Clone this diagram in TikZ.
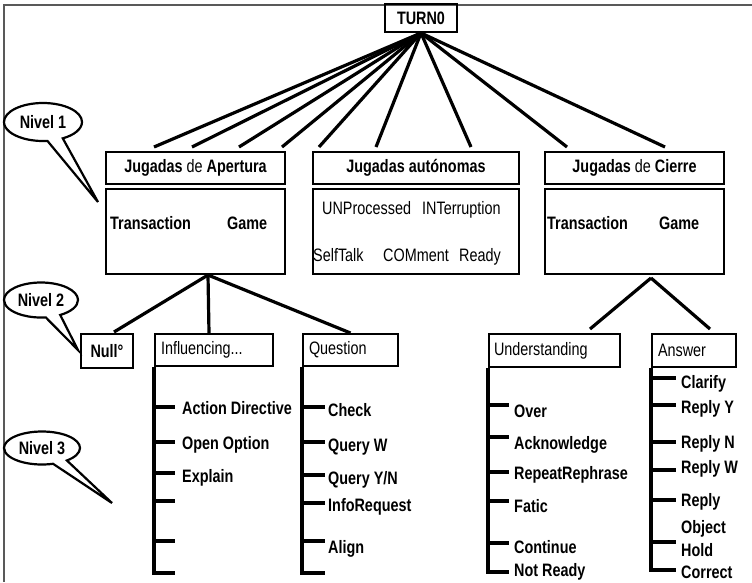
\documentclass[tikz,border=0pt]{standalone}
\usepackage{fontspec}
\setmainfont{Liberation Sans}[FakeStretch=0.8]
\usetikzlibrary{shapes.geometric,shapes.callouts}

\begin{document}
\begin{tikzpicture}[x=1pt, y=-1pt,
		every node/.style={font=\fontsize{18}{20}\selectfont},
		bold/.style={font=\fontsize{18}{20}\selectfont\bfseries},
		box/.style={draw, line width=2pt, inner sep=0pt},
		lvbox/.style={box, anchor=north west, minimum height=32pt, inner xsep=6pt, align=left},
		lab/.style={bold, anchor=west, inner sep=0pt, text height=13pt, text depth=0pt},
		word/.style={anchor=west, inner sep=0pt, text height=13pt, text depth=0pt},
		link/.style={line width=3.2pt},
		tree/.style={line width=3.2pt},
		nivel/.style={ellipse callout, draw, line width=2.2pt, bold, inner sep=0pt, callout pointer arc=24}
	]

		\useasboundingbox (0,0) rectangle (752,582);
		\draw[gray!70!black, line width=1.2pt] (752,5) -- (4,5) -- (4,582);

		\node[box, bold, minimum width=72pt, minimum height=28pt] (turno) at (421,18) {TURN0};

		\node[box, bold, minimum width=179pt, minimum height=32pt] (apH) at (195.5,168) {Jugadas {\mdseries de} Apertura};
		\node[box, minimum width=179pt, minimum height=85pt] (apB) at (195.5,231.5) {};
		\node[box, bold, minimum width=206pt, minimum height=32pt] (auH) at (416,168) {Jugadas autónomas};
		\node[box, minimum width=206pt, minimum height=85pt] (auB) at (416,231.5) {};
		\node[box, bold, minimum width=179pt, minimum height=32pt] (ciH) at (634.5,168) {Jugadas {\mdseries de} Cierre};
		\node[box, minimum width=179pt, minimum height=85pt] (ciB) at (634.5,231.5) {};

		\node[lab] (apTr) at (110,223) {Transaction};
		\node[lab] (apGa) at (227,223) {Game};
		\node[lab] (ciTr) at (547,223) {Transaction};
		\node[lab] (ciGa) at (659,223) {Game};
		\node[word] (unp) at (322,208) {UNProcessed};
		\node[word] (intr) at (422,208) {INTerruption};
		\node[word] (self) at (313,255) {SelfTalk};
		\node[word] (comm) at (383,255) {COMment};
		\node[word] (ready) at (459,255) {Ready};

		\foreach \dx in {49,87,134,177}
			\draw[link] (turno.south) -- ([xshift=\dx pt, yshift=4pt]apH.north west);
		\foreach \dx in {7,64,159}
			\draw[link] (turno.south) -- ([xshift=\dx pt, yshift=4pt]auH.north west);
		\foreach \dx in {23,121}
			\draw[link] (turno.south) -- ([xshift=\dx pt, yshift=4pt]ciH.north west);

		% nivel 2
		\node[lvbox, bold, text width=40pt, align=center, minimum height=34pt] (null) at (80,333) {Null°};
		\node[lvbox, text width=106pt] (infl) at (154,333) {Influencing...};
		\node[lvbox, text width=83pt] (ques) at (302,333) {Question};
		\node[lvbox, text width=121pt, inner xsep=5pt, minimum height=33pt] (und) at (488,333) {Understanding};
		\node[lvbox, text width=72pt, minimum height=33pt] (ans) at (651,333) {Answer};

		\coordinate (apx) at ([xshift=12.5pt]apB.south);
		\draw[link] (apx) -- ([xshift=7pt, yshift=1pt]null.north);
		\draw[link] (apx) -- ([xshift=-5pt]infl.north);
		\draw[link] (apx) -- (ques.north);
		\coordinate (cix) at ([xshift=16.5pt, yshift=-3pt]ciB.south);
		\draw[link] (cix) -- ([xshift=35.5pt, yshift=4pt]und.north);
		\draw[link] (cix) -- ([xshift=16pt, yshift=4pt]ans.north);

		% nivel 3
		\draw[tree] (infl.south west) |- (175,573);
		\foreach \y in {407,442,473,501,541}
			\draw[tree] (infl.south west |- 0,\y) -- ++(21,0);
		\draw[tree] (ques.south west) |- (325,573);
		\foreach \y in {407,442,475,503,541}
			\draw[tree] (ques.south west |- 0,\y) -- ++(23,0);
		\draw[tree] (und.south west) |- (509,572);
		\foreach \y in {405,437,472,501,543}
			\draw[tree] (und.south west |- 0,\y) -- ++(21,0);
		\draw[tree] (ans.south west) |- (676,570);
		\foreach \y in {378,405,442,470,500,542}
			\draw[tree] (ans.south west |- 0,\y) -- ++(25,0);

		\node[lab] (actdir) at (182,408) {Action Directive};
		\node[lab] (openopt) at (182,443) {Open Option};
		\node[lab] (explain) at (182,476) {Explain};

		\node[lab] (check) at (328,410) {Check};
		\node[lab] (queryw) at (328,445) {Query W};
		\node[lab] (queryyn) at (328,478) {Query Y/N};
		\node[lab] (inforeq) at (328,505) {InfoRequest};
		\node[lab] (align) at (328,547) {Align};

		\node[lab] (over) at (514,411) {Over};
		\node[lab] (ackn) at (514,443) {Acknowledge};
		\node[lab] (repeat) at (514,473) {RepeatRephrase};
		\node[lab] (fatic) at (514,506) {Fatic};
		\node[lab] (cont) at (514,547) {Continue};
		\node[lab] (notready) at (514,570) {Not Ready};

		\node[lab] (clarify) at (681,382) {Clarify};
		\node[lab] (replyy) at (681,407) {Reply Y};
		\node[lab] (replyn) at (681,442) {Reply N};
		\node[lab] (replyw) at (681,467) {Reply W};
		\node[lab] (reply) at (681,500) {Reply};
		\node[lab] (object) at (681,527) {Object};
		\node[lab] (hold) at (681,550) {Hold};
		\node[lab] (correct) at (681,572) {Correct};

		% niveles
		\node[nivel, minimum width=78pt, minimum height=38pt, callout absolute pointer={(98,202)}] (niv1) at (43,122) {Nivel 1};
		\node[nivel, minimum width=74pt, minimum height=35pt, callout absolute pointer={(78,350)}] (niv2) at (41,300) {Nivel 2};
		\node[nivel, minimum width=76pt, minimum height=33pt, callout absolute pointer={(112,503)}] (niv3) at (42,448) {Nivel 3};

\end{tikzpicture}
\end{document}
